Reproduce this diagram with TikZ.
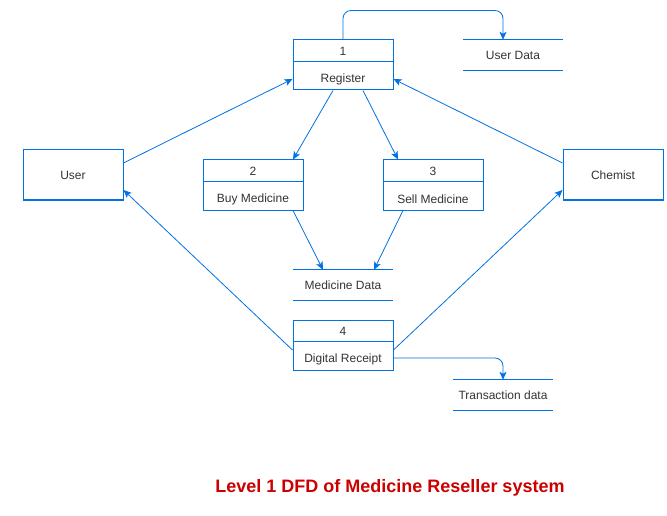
\documentclass[tikz,border=0pt]{standalone}
\usepackage{fontspec}
\setmainfont{Liberation Sans}
\usetikzlibrary{arrows.meta,calc}
\definecolor{lineblue}{RGB}{0,114,227}
\definecolor{txt}{RGB}{51,51,51}
\definecolor{titlered}{RGB}{204,0,0}
\begin{document}
\begin{tikzpicture}[x=1pt,y=-1pt,
  every node/.style={font=\fontsize{12}{14}\selectfont, text=txt, inner sep=0pt},
  ln/.style={draw=lineblue, line width=0.9pt},
  fl/.style={draw=lineblue, line width=0.8pt, -{Stealth[length=8pt,width=7pt,inset=2pt]}},
  box/.style={draw=lineblue, line width=1pt, minimum width=100pt, minimum height=50pt}]
\useasboundingbox (0,0) rectangle (667,516);
% external entities
\node[box] (user) at (73,175) {User};
\node[box] (chem) at (613,175) {Chemist};
% processes
\foreach \n/\x/\y/\lab in {p1/343/65/Register, p2/253/185/Buy Medicine, p3/433/185/Sell Medicine, p4/343/345/Digital Receipt}{
  \node[box] (\n) at (\x,\y) {};
  \draw[ln] ($(\n.north west)+(0,22)$) -- ($(\n.north east)+(0,22)$);
}
\node (n1) at ($(p1.north)+(0,12)$) {1};
\node (l1) at ($(p1.north)+(0,40)$) {Register};
\node (n2) at ($(p2.north)+(0,12)$) {2};
\node (l2) at ($(p2.north)+(0,40)$) {Buy Medicine};
\node (n3) at ($(p3.north)+(0,12)$) {3};
\node (l3) at ($(p3.north)+(0,40)$) {Sell Medicine};
\node (n4) at ($(p4.north)+(0,12)$) {4};
\node (l4) at ($(p4.north)+(0,40)$) {Digital Receipt};
% data stores
\foreach \n/\x/\y/\lab in {ud/513/55/User Data, md/343/285/Medicine Data, td/503/395/Transaction data}{
  \node[minimum width=100pt, minimum height=30pt] (\n) at (\x,\y) {\lab};
  \draw[ln] (\n.north west) -- (\n.north east);
  \draw[ln] (\n.south west) -- (\n.south east);
}
% flows
\draw[fl, rounded corners=8pt] (p1.north) -- ++(0,-29) -| ($(ud.north)+(-10,0)$);
\draw[fl, rounded corners=8pt] ($(p4.east)+(0,13)$) -| ($(td.north)+(0,0)$);
\draw[fl] ($(user.east)+(0,-12)$) -- ($(p1.west)+(0,14)$);
\draw[fl] ($(chem.west)+(0,-12)$) -- ($(p1.east)+(0,14)$);
\draw[fl] ($(p1.south)+(-10,0)$) -- ($(p2.north)+(40,0)$);
\draw[fl] ($(p1.south)+(20,0)$) -- ($(p3.north)+(-35,0)$);
\draw[fl] ($(p2.south)+(40,0)$) -- ($(md.north)+(-20,0)$);
\draw[fl] ($(p3.south)+(-30,0)$) -- ($(md.north)+(31,0)$);
\draw[fl] ($(p4.west)+(0,5)$) -- ($(user.east)+(0,15)$);
\draw[fl] ($(p4.east)+(0,5)$) -- ($(chem.west)+(0,15)$);
% title
\node[text=titlered, font=\fontsize{18}{21}\selectfont\bfseries] (title) at (390,488) {Level 1 DFD of Medicine Reseller system};
\end{tikzpicture}
\end{document}
